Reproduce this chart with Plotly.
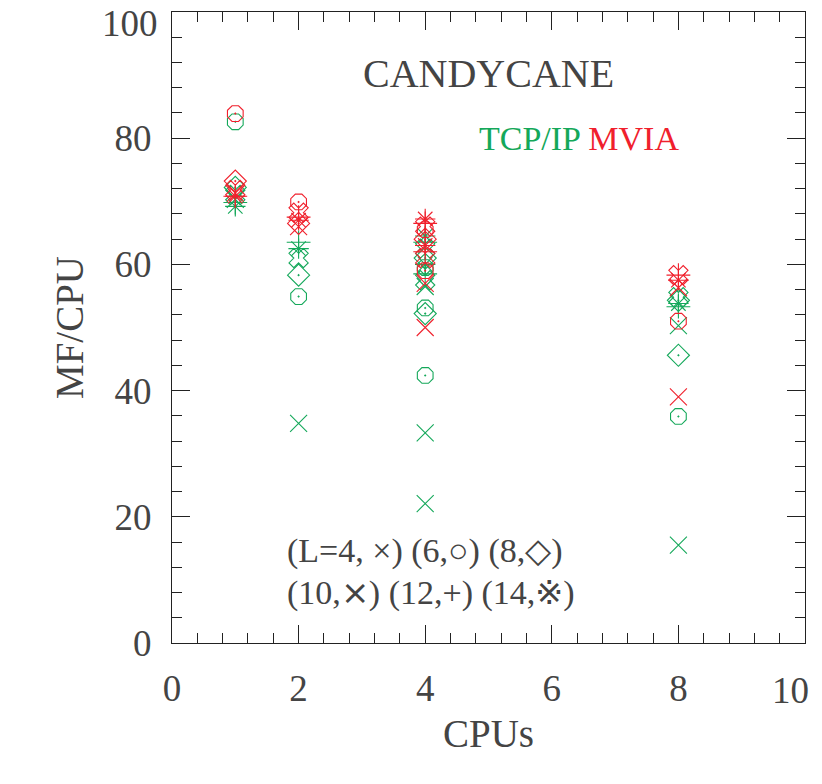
import plotly.graph_objects as go

# CPU counts and MF/CPU values per lattice size L, for each protocol
L_SIZES = [4, 6, 8, 10, 12, 14]
SYMBOLS = ["x-thin-open", "octagon-open-dot", "diamond-open-dot",
           "x-open", "cross-thin-open", "asterisk-open"]

tcp_cpus = {
    4: [1, 2, 4, 4, 4, 8, 8],
    6: [1, 2, 4, 4, 4, 8],
    8: [1, 2, 4, 4, 8, 8],
    10: [1, 2, 4, 4, 8],
    12: [1, 2, 4, 4, 8],
    14: [1, 2, 4, 4, 8],
}
tcp_mf = {
    4: [70.3, 34.8, 56.5, 33.3, 22.1, 50.3, 15.5],
    6: [82.6, 54.9, 59.5, 53.1, 42.4, 35.9],
    8: [72.2, 58.3, 61.0, 52.2, 54.3, 45.6],
    10: [71.0, 61.0, 62.5, 57.5, 54.8],
    12: [69.8, 63.5, 63.5, 58.5, 53.3],
    14: [69.2, 62.5, 64.5, 60.0, 53.8],
}

mvia_cpus = {
    4: [1, 2, 4, 4, 8, 8],
    6: [1, 2, 4, 4, 8],
    8: [1, 2, 4],
    10: [1, 2, 4, 4, 8],
    12: [1, 2, 4, 4, 8],
    14: [1, 2, 4, 4, 8],
}
mvia_mf = {
    4: [71.3, 66.0, 57.0, 50.0, 56.3, 39.0],
    6: [83.9, 69.9, 65.5, 59.0, 51.0],
    8: [73.2, 66.5, 64.0],
    10: [71.8, 68.2, 66.0, 61.0, 58.3],
    12: [70.8, 67.5, 66.5, 62.0, 58.3],
    14: [70.8, 67.0, 67.2, 63.0, 57.5],
}

x_ticks = [0, 2, 4, 6, 8, 10]
y_ticks = [0, 20, 40, 60, 80, 100]

GREEN = "#14a85a"
RED = "#f0202c"
FONT = "Liberation Serif"
TXT = "#444444"
TICK_FONT = dict(family=FONT, size=37, color=TXT)

fig = go.Figure()

for cpus, mf, color, name in [(tcp_cpus, tcp_mf, GREEN, "TCP/IP"),
                               (mvia_cpus, mvia_mf, RED, "MVIA")]:
    for L, sym in zip(L_SIZES, SYMBOLS):
        fig.add_trace(go.Scatter(
            x=cpus[L], y=mf[L], mode="markers", name=f"{name} L={L}",
            marker=dict(symbol=sym, size=17, color=color,
                        line=dict(color=color, width=1.1)),
            showlegend=False,
        ))

axis_style = dict(
    showline=True, linecolor="#222", linewidth=1.3, mirror="ticks",
    ticks="inside", ticklen=18, tickwidth=1.2, tickcolor="#222",
    showgrid=False, zeroline=False, automargin=False,
    ticklabeloverflow="allow", tickfont=TICK_FONT,
)

# the last label on each axis would be clipped by the page edge,
# so it is drawn as an annotation pulled slightly inwards
fig.update_xaxes(
    range=[0, 10], tickvals=x_ticks,
    ticktext=[str(v) for v in x_ticks[:-1]] + [""],
    minor=dict(ticks="inside", ticklen=10, dtick=0.4, tickcolor="#222", tickwidth=1),
    title=dict(text="CPUs", font=dict(family=FONT, size=39, color=TXT), standoff=12),
    ticklabelstandoff=12,
    **axis_style,
)
fig.update_yaxes(
    range=[0, 100], tickvals=y_ticks,
    ticktext=[str(v) for v in y_ticks[:-1]] + [""],
    minor=dict(ticks="inside", ticklen=10, dtick=4, tickcolor="#222", tickwidth=1),
    title=dict(text="MF/CPU", font=dict(family=FONT, size=39, color=TXT), standoff=18),
    ticklabelstandoff=12,
    **axis_style,
)

fig.add_annotation(x=x_ticks[-1], y=0, xref="x", yref="paper", yanchor="middle",
                   xanchor="right", xshift=6, yshift=-47,
                   text=str(x_ticks[-1]), showarrow=False, font=TICK_FONT)
fig.add_annotation(x=0, y=y_ticks[-1], xref="paper", yref="y", xanchor="right",
                   xshift=-12, yshift=-11,
                   text=str(y_ticks[-1]), showarrow=False, font=TICK_FONT)

fig.add_annotation(x=5.0, y=90.3, xref="x", yref="y", text="CANDYCANE",
                   showarrow=False, font=dict(family=FONT, size=40, color=TXT))
fig.add_annotation(
    x=6.43, y=80, xref="x", yref="y", showarrow=False,
    text=f"<span style='color:{GREEN}'>TCP/IP</span> <span style='color:{RED}'>MVIA</span>",
    font=dict(family=FONT, size=34),
)
fig.add_annotation(x=1.78, y=14.6, xref="x", yref="y", xanchor="left",
                   text="(L=4, ×) (6,○) (8,◇)", showarrow=False,
                   font=dict(family=FONT, size=34, color=TXT))
fig.add_annotation(x=1.78, y=7.9, xref="x", yref="y", xanchor="left",
                   text="(10,⨯) (12,+) (14,※)", showarrow=False,
                   font=dict(family=FONT, size=34, color=TXT))

# the page body adds an 8px offset, so the figure is shrunk to fit the window
fig.update_layout(
    width=806, height=768,
    paper_bgcolor="white", plot_bgcolor="white",
    margin=dict(l=164, r=9, t=4, b=133),
)

fig.write_html("out.html")
